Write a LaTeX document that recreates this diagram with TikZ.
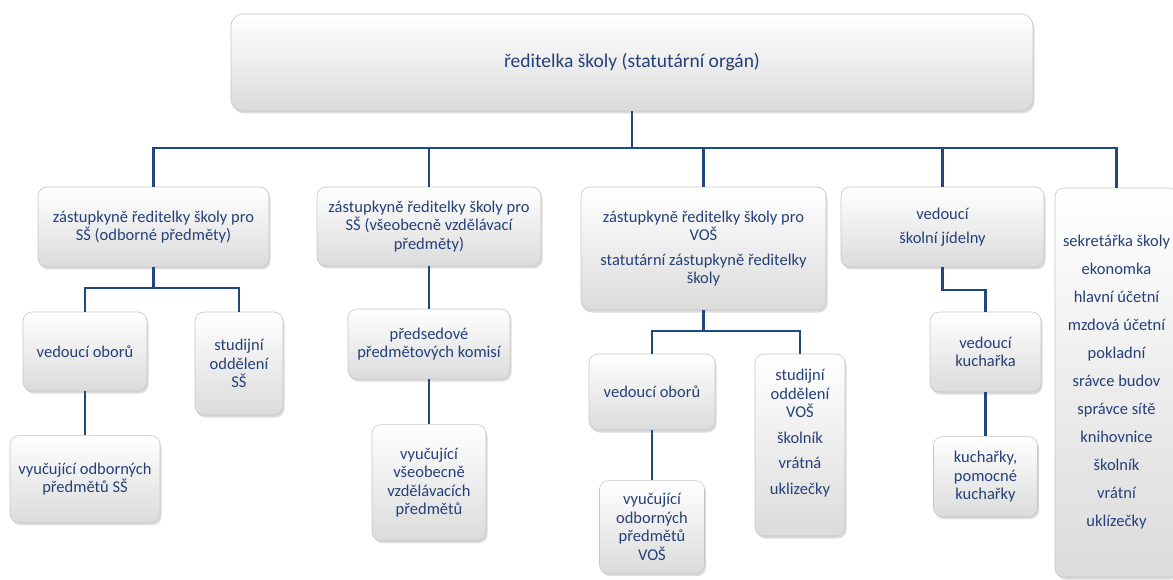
\documentclass[tikz,border=0pt]{standalone}
\usepackage{fontspec}
\setmainfont{Carlito}
\usepackage{tikz}
\usetikzlibrary{positioning}
\usetikzlibrary{shapes,shadows}
\definecolor{navy}{RGB}{31,73,125}
\definecolor{txtblue}{RGB}{36,64,120}
\tikzstyle{block} = [rectangle, draw=gray!45, line width=0.6pt, top color=white, bottom color=gray!28,
rounded corners=9pt, align=center, text=txtblue, inner sep=2pt,
font=\fontsize{16.5}{18.5}\selectfont,
drop shadow={shadow xshift=1.5pt, shadow yshift=-2.5pt, opacity=0.35, fill=gray!80}]
\tikzstyle{line} = [draw=navy, line width=2.8pt]

\begin{document}
\begin{tikzpicture}[x=1pt, y=-1pt]
\useasboundingbox (0,0) rectangle (1173,580);
\clip (0,0) rectangle (1173,580);
    % nodes
\node [block, minimum width=802pt, minimum height=97pt, rounded corners=12pt, font=\fontsize{19.5}{22}\selectfont] (red) at (632,62.5) {ředitelka školy (statutární orgán)};
\node [block, minimum width=231pt, minimum height=80pt] (zsso) at (153.5,227) {zástupkyně ředitelky školy pro\\SŠ (odborné předměty)};
\node [block, minimum width=224pt, minimum height=79pt] (zssv) at (429,226.5) {zástupkyně ředitelky školy pro\\SŠ (všeobecně vzdělávací\\předměty)};
\node [block, minimum width=245pt, minimum height=123pt] (zvos) at (703.5,248.5) {zástupkyně ředitelky školy pro\\VOŠ\\[6pt]statutární zástupkyně ředitelky\\školy};
\node [block, minimum width=203pt, minimum height=80pt] (vsj) at (942.5,227) {vedoucí\\[6pt]školní jídelny};
\node [block, minimum width=123pt, minimum height=389pt] (ost) at (1116.5,382.5) {sekretářka školy\\[9.5pt]ekonomka\\[9.5pt]hlavní účetní\\[9.5pt]mzdová účetní\\[9.5pt]pokladní\\[9.5pt]srávce budov\\[9.5pt]správce sítě\\[9.5pt]knihovnice\\[9.5pt]školník\\[9.5pt]vrátní\\[9.5pt]uklízečky};
% SS odborne
\node [block, minimum width=124pt, minimum height=79pt] (vo1) at (85,351.5) {vedoucí oborů};
\node [block, minimum width=88pt, minimum height=103pt] (so1) at (239,363.5) {studijní\\oddělení\\SŠ};
\node [block, minimum width=150pt, minimum height=87pt, below=44pt of vo1] (vyo1) {vyučující odborných\\předmětů SŠ};
% SS vseobecne
\node [block, minimum width=162pt, minimum height=70pt] (pk) at (429,344) {předsedové\\předmětových komisí};
\node [block, minimum width=114pt, minimum height=116pt, below=45pt of pk] (vyv) {vyučující\\všeobecně\\vzdělávacích\\předmětů};
% VOS
\node [block, minimum width=126pt, minimum height=76pt] (vo2) at (652,392) {vedoucí oborů};
\node [block, minimum width=90pt, minimum height=182pt, text depth=26pt] (so2) at (800,445) {studijní\\oddělení\\VOŠ\\[7pt]školník\\[7pt]vrátná\\[7pt]uklizečky};
\node [block, minimum width=105pt, minimum height=93pt, below=50pt of vo2] (vyo2) {vyučující\\odborných\\předmětů\\VOŠ};
% jidelna
\node [block, minimum width=111pt, minimum height=80pt] (vk) at (985.5,352) {vedoucí\\kuchařka};
\node [block, minimum width=104pt, minimum height=80pt, below=44pt of vk] (kuch) {kuchařky,\\pomocné\\kuchařky};

\coordinate (b0) at (632,148);
\coordinate (b1) at (153.5,288);
\coordinate (b3) at (703.5,331);
\coordinate (b4) at (942.5,290);

%edges
\path [line] (red) -- (b0);
\path [line] (b0) -| (zsso);
\path [line] (b0) -| (zssv);
\path [line] (b0) -| (zvos);
\path [line] (b0) -| (vsj);
\path [line] (b0) -| (ost);

\path [line] (zsso) -- (b1);
\path [line] (b1) -| (vo1);
\path [line] (b1) -| (so1);
\path [line] (vo1) -- (vyo1);

\path [line] (zssv) -- (pk);
\path [line] (pk) -- (vyv);

\path [line] (zvos) -- (b3);
\path [line] (b3) -| (vo2);
\path [line] (b3) -| (so2);
\path [line] (vo2) -- (vyo2);

\path [line] (vsj) -- (b4) -| (vk);
\path [line] (vk) -- (kuch);

\end{tikzpicture}
\end{document}
